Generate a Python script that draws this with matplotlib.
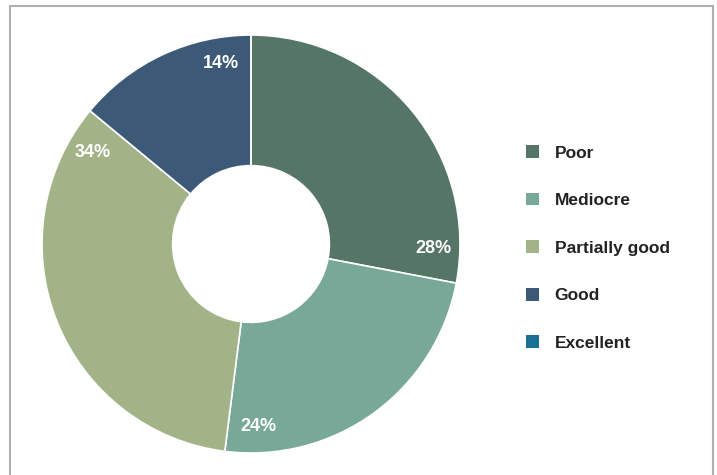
import numpy as np
import matplotlib.pyplot as plt
from matplotlib.patches import Patch, Rectangle

plt.rcParams['font.family'] = ['Liberation Sans', 'DejaVu Sans']

# ratings share
categories = ['Poor', 'Mediocre', 'Partially good', 'Good', 'Excellent']
shares = [28, 24, 34, 14, 0]
colors = ['#557566', '#78a898', '#a2b487', '#3c5a78', '#1a6f94']

fig = plt.figure(figsize=(7.17, 4.75), dpi=100)
fig.patch.set_facecolor('white')

# donut centred at (251, 244) px, outer radius 209 px
cx, cy, r = 251, 244, 209
ax = fig.add_axes([(cx - r) / 717, (475 - cy - r) / 475, 2 * r / 717, 2 * r / 475])
wedges, _ = ax.pie(shares, colors=colors, startangle=90, counterclock=False,
                   radius=1, wedgeprops=dict(width=0.625, edgecolor='white', linewidth=1.2))
ax.set_xlim(-1, 1)
ax.set_ylim(-1, 1)
ax.set_aspect('equal')
ax.axis('off')

# percent labels sit near the closing edge of each slice
for w, v in zip(wedges, shares):
    if v == 0:
        continue
    ang = np.deg2rad(w.theta1 + 9.5)
    ax.text(0.875 * np.cos(ang), 0.875 * np.sin(ang), f'{v}%', color='white',
            fontsize=13, fontweight='bold', ha='center', va='center')

handles = [Patch(facecolor=c, edgecolor='none') for c in colors]
fig.legend(handles, categories, loc='center left', bbox_to_anchor=(526 / 717, 1 - 248 / 475),
           frameon=False, prop={'weight': 'bold', 'size': 12.5},
           handlelength=0.75, handleheight=0.75, handletextpad=0.9,
           labelspacing=1.85, borderpad=0, borderaxespad=0, labelcolor='#222222')

# outer frame, open at the bottom
fig.patches.append(Rectangle((10 / 717, -0.05), 703 / 717, 1.05 - 6 / 475,
                             transform=fig.transFigure, fill=False,
                             edgecolor='#b0b0b0', linewidth=1.5, clip_on=False))

fig.savefig('out.png', dpi=100, facecolor='white')
